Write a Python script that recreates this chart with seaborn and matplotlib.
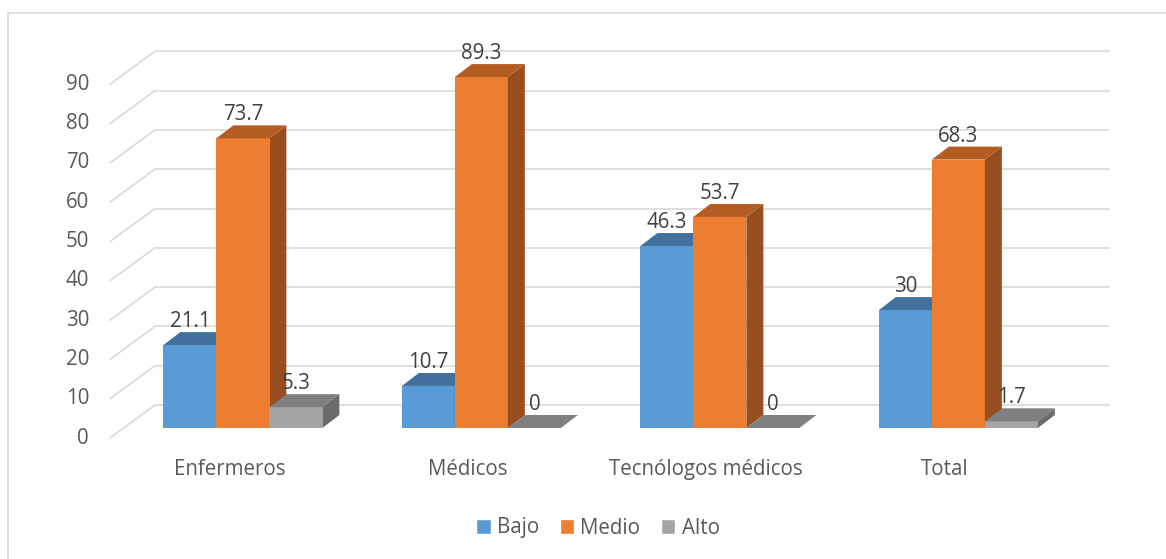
import pandas as pd
import matplotlib
matplotlib.use("Agg")
import matplotlib.pyplot as plt
import seaborn as sns
from matplotlib.patches import Polygon, Patch, Rectangle

# ----------------------------
# Data
# ----------------------------
categories = ["Enfermeros", "Médicos", "Tecnólogos médicos", "Total"]
levels = ["Bajo", "Medio", "Alto"]
bajo = [21.1, 10.7, 46.3, 30]
medio = [73.7, 89.3, 53.7, 68.3]
alto = [5.3, 0, 0, 1.7]
y_ticks = [0, 10, 20, 30, 40, 50, 60, 70, 80, 90]

front_colors = ["#5B9BD5", "#ED7D31", "#A5A5A5"]
top_colors = ["#41719C", "#B45D22", "#7F7F7F"]
side_colors = ["#3B6690", "#984E1E", "#6B6B6B"]

rows = []
for lvl, vals in zip(levels, [bajo, medio, alto]):
    for cat, v in zip(categories, vals):
        rows.append({"Grupo": cat, "Nivel": lvl, "Valor": v})
df = pd.DataFrame(rows)

# ----------------------------
# Style
# ----------------------------
sns.set_style("white")
plt.rcParams['font.family'] = ['Open Sans', 'DejaVu Sans']
FS = 14.8
GRID = "#D9D9D9"
TXT = "#595959"

W, H = 1166, 559
fig = plt.figure(figsize=(W / 100, H / 100), dpi=100)
ax = fig.add_axes([123.6 / W, (H - 428) / H, 954 / W, 353.7 / H])

sns.barplot(data=df, x="Grupo", y="Valor", hue="Nivel", order=categories,
            hue_order=levels, palette=front_colors, saturation=1, width=2 / 3,
            linewidth=0, legend=False, ax=ax)
ax.set_xlim(-0.5, 3.5)
ax.set_ylim(0, 90)
ax.axis('off')

# pixel -> data unit conversion (for the 3D depth effect)
p0 = ax.transData.transform((0, 0))
ux = ax.transData.transform((1, 0))[0] - p0[0]
uy = ax.transData.transform((0, 1))[1] - p0[1]

ddx, ddy = 17 / ux, 13 / uy          # bar depth
fx, fy = -13.6 / ux, -10 / uy        # front plane
bx, by = 31.4 / ux, 23 / uy          # back wall

# gridlines: diagonal on the side wall + horizontal on the back wall
for t in y_ticks:
    ax.plot([-0.5 + fx, -0.5 + bx], [t + fy, t + by], color=GRID, lw=1.2,
            zorder=0, clip_on=False)
    ax.plot([-0.5 + bx, 3.5 + bx], [t + by, t + by], color=GRID, lw=1.2,
            zorder=0, clip_on=False)
    ax.text(-0.5 + fx - 21 / ux, t + fy, str(t), ha='right', va='center',
            fontsize=FS, color=TXT)

# 3D faces and value labels
for hi, cont in enumerate(ax.containers):
    for rect in cont:
        x0, w, h = rect.get_x(), rect.get_width(), rect.get_height()
        rect.set_zorder(2 + hi)
        top = Polygon([(x0, h), (x0 + w, h), (x0 + w + ddx, h + ddy), (x0 + ddx, h + ddy)],
                      closed=True, facecolor=top_colors[hi], lw=0, zorder=2 + hi, clip_on=False)
        side = Polygon([(x0 + w, 0), (x0 + w + ddx, ddy), (x0 + w + ddx, h + ddy), (x0 + w, h)],
                       closed=True, facecolor=side_colors[hi], lw=0, zorder=2 + hi, clip_on=False)
        ax.add_patch(top)
        ax.add_patch(side)
        ax.text(x0 + w / 2, h + 18 / uy, f"{h:g}", ha='center', va='baseline',
                fontsize=FS, color="#404040", zorder=10, clip_on=False)

# category labels
for i, cat in enumerate(categories):
    ax.text(i + fx, -42 / uy, cat, ha='center', va='center', fontsize=FS,
            color=TXT, clip_on=False)

# legend
handles = [Patch(facecolor=c, label=l) for c, l in zip(front_colors, levels)]
fig.legend(handles=handles, loc='center', bbox_to_anchor=(598 / W, 1 - 528 / H),
           ncol=3, frameon=False, fontsize=FS, handlelength=0.7, handleheight=0.7,
           handletextpad=0.3, columnspacing=1.0, labelcolor=TXT)

# chart border
fig.add_artist(Rectangle((8 / W, -0.05), 1.2, 1.05 - 13 / H, transform=fig.transFigure,
                         fill=False, edgecolor=GRID, lw=1.2))

fig.savefig("out.png", dpi=100)
